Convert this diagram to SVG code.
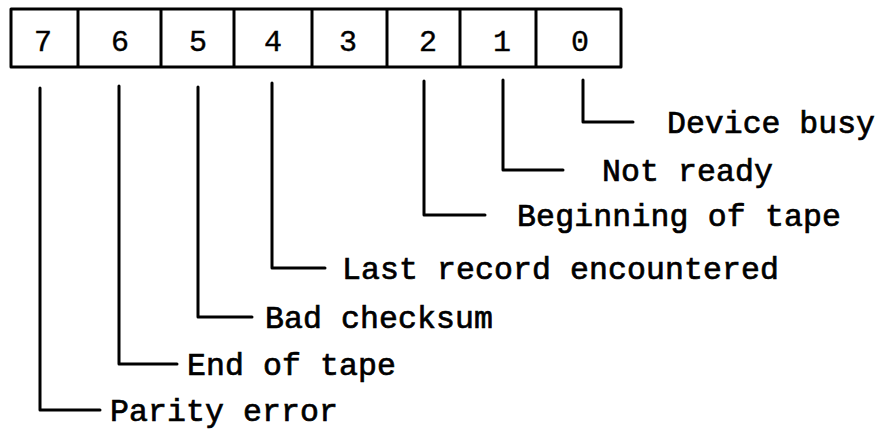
<svg xmlns="http://www.w3.org/2000/svg" width="893" height="429" viewBox="0 0 893 429">
  <style>
    .frame { fill: none; stroke: #000; stroke-width: 3; stroke-linejoin: round; }
    .wire { fill: none; stroke: #000; stroke-width: 3; stroke-linejoin: round; stroke-linecap: round; }
    .digit { font-family: "Liberation Mono", "Courier New", monospace; font-size: 30px; fill: #000; stroke: #000; stroke-width: 0.4; text-anchor: middle; }
    .label { font-family: "Liberation Mono", "Courier New", monospace; font-size: 31.5px; fill: #000; stroke: #000; stroke-width: 0.7; }
  </style>
  <rect width="893" height="429" fill="#fff"/>

  <!-- status register, bits 7..0 -->
  <g id="register">
    <rect class="frame" x="11" y="9" width="610" height="58"/>
    <line class="frame" x1="78" y1="9" x2="78" y2="67"/>
    <line class="frame" x1="161" y1="9" x2="161" y2="67"/>
    <line class="frame" x1="234" y1="9" x2="234" y2="67"/>
    <line class="frame" x1="312" y1="9" x2="312" y2="67"/>
    <line class="frame" x1="387" y1="9" x2="387" y2="67"/>
    <line class="frame" x1="460" y1="9" x2="460" y2="67"/>
    <line class="frame" x1="536" y1="9" x2="536" y2="67"/>
    <text class="digit" x="43" y="51">7</text>
    <text class="digit" x="120" y="51">6</text>
    <text class="digit" x="198" y="51">5</text>
    <text class="digit" x="273" y="51">4</text>
    <text class="digit" x="348" y="51">3</text>
    <text class="digit" x="428" y="51">2</text>
    <text class="digit" x="502" y="51">1</text>
    <text class="digit" x="580" y="51">0</text>
  </g>

  <!-- bit leaders -->
  <g id="connectors">
    <polyline class="wire" points="583,80 583,122 633,122"/>
    <polyline class="wire" points="503,80 503,170 563,170"/>
    <polyline class="wire" points="424,81 424,215 485,215"/>
    <polyline class="wire" points="272,83 272,268 325,268"/>
    <polyline class="wire" points="198,87 198,317 252,317"/>
    <polyline class="wire" points="119,86 119,364 177,364"/>
    <polyline class="wire" points="40,88 40,410 100,410"/>
  </g>

  <g id="bit0"><text class="label" x="667" y="133" textLength="208">Device busy</text></g>
  <g id="bit1"><text class="label" x="602" y="181" textLength="171">Not ready</text></g>
  <g id="bit2"><text class="label" x="517" y="226" textLength="324">Beginning of tape</text></g>
  <g id="bit4"><text class="label" x="342" y="279" textLength="437">Last record encountered</text></g>
  <g id="bit5"><text class="label" x="265" y="328" textLength="228">Bad checksum</text></g>
  <g id="bit6"><text class="label" x="187" y="375" textLength="209">End of tape</text></g>
  <g id="bit7"><text class="label" x="110" y="421" textLength="228">Parity error</text></g>
</svg>
